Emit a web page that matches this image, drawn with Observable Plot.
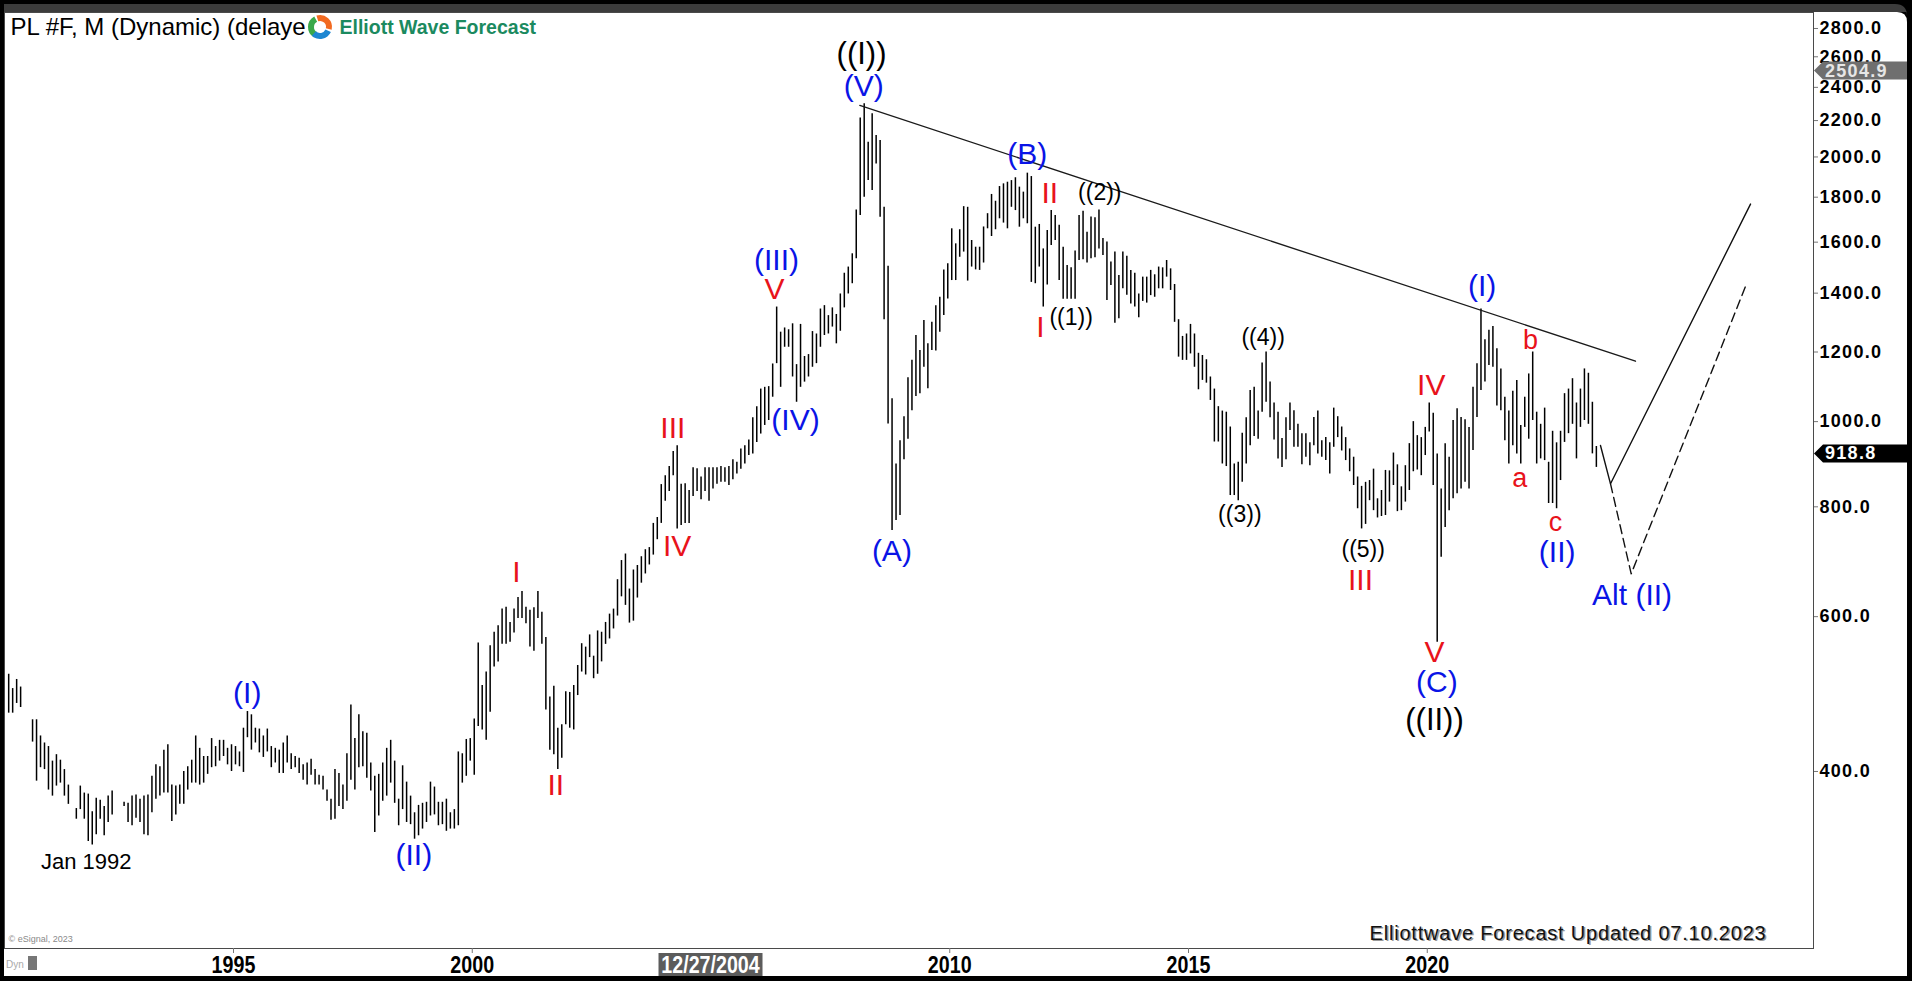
<!DOCTYPE html>
<html>
<head>
<meta charset="utf-8">
<script src="https://cdn.jsdelivr.net/npm/d3@7"></script>
<script src="https://cdn.jsdelivr.net/npm/@observablehq/plot@0.6"></script>
<style>
html, body { margin: 0; padding: 0; background: #000; overflow: hidden; }
#chart { position: absolute; left: 0; top: 0; width: 1912px; height: 981px; }
</style>
</head>
<body>
<div id="chart"></div>
<script>
// ---------- DATA ----------
const startYear = 1990, startMonth = 4;   // first monthly bar: Apr 1990
// monthly highs, one row per calendar year
const highs = [
  516,497,509,499,null,null,458,458,439,                 // 1990 Apr-Dec
  431,427,411,418,412,402,386,null,363,385,378,377,      // 1991
  360,373,371,365,375,380,null,null,369,368,375,376,     // 1992
  372,375,376,395,407,405,423,429,386,385,386,400,       // 1993
  405,412,439,425,416,416,436,427,434,434,425,429,       // 1994
  427,421,448,468,464,448,447,439,447,427,425,423,       // 1995
  431,439,419,416,414,407,409,413,402,396,395,381,       // 1996
  372,402,398,386,419,476,436,464,444,442,409,395,       // 1997
  397,409,425,434,411,372,406,389,375,359,366,368,       // 1998
  369,389,384,369,369,372,359,362,421,419,435,436,       // 1999
  459,560,501,519,556,576,586,612,615,591,612,631,       // 2000
  641,615,610,614,641,607,568,486,500,448,452,493,       // 2001
  492,501,528,559,554,572,541,578,576,591,604,612,       // 2002
  661,695,707,645,678,686,702,715,719,766,778,848,       // 2003
  868,889,925,939,849,850,835,886,884,865,886,886,       // 2004
  886,886,889,886,889,905,899,931,939,953,1010,1040,     // 2005
  1089,1094,1096,1163,1350,1264,1278,1272,1292,1161,1290,1186, // 2006
  1192,1266,1258,1343,1355,1320,1347,1324,1397,1475,1499,1552, // 2007
  1741,2215,2299,2079,2240,2116,2088,1753,1502,1062,895,951,   // 2008
  1013,1122,1174,1253,1205,1303,1226,1297,1355,1385,1488,1512, // 2009
  1657,1593,1653,1756,1753,1607,1579,1579,1665,1724,1813,1781, // 2010
  1851,1864,1872,1880,1894,1848,1824,1917,1900,1664,1676,1572, // 2011
  1650,1738,1716,1672,1579,1505,1496,1563,1716,1735,1642,1709, // 2012
  1706,1741,1615,1601,1519,1559,1466,1559,1542,1486,1475,1397, // 2013
  1460,1460,1486,1469,1499,1496,1525,1492,1432,1306,1250,1258, // 2014
  1290,1258,1196,1189,1176,1124,1089,1040,1028,1025,986,895,   // 2015
  899,970,1010,1085,1094,1028,1166,1200,1109,1050,1025,957,    // 2016
  1010,1050,1029,993,969,969,946,1011,1028,951,959,946,        // 2017
  1036,1013,986,959,931,911,865,844,853,857,883,817,           // 2018
  835,880,879,921,893,843,891,944,1000,964,959,985,            // 2019
  1050,1022,919,838,944,911,1003,1034,1011,1005,985,1094,      // 2020
  1164,1343,1239,1270,1283,1210,1148,1066,1028,1083,1114,990,  // 2021
  1066,1133,1200,1025,993,1036,899,975,946,975,1076,1089,      // 2022
  1119,1050,1089,1148,1135,1052,937                            // 2023 Jan-Jul
];
// monthly lows, same layout
const lows = [
  466,466,478,473,null,null,432,390,404,
  402,381,375,385,388,375,367,null,353,362,353,333,
  330,339,353,338,350,357,null,null,365,350,347,354,
  350,339,338,359,372,375,378,378,351,357,367,367,
  381,388,388,386,388,397,404,405,411,416,407,400,
  407,405,399,437,423,431,420,415,421,404,409,398,
  398,409,402,404,398,391,386,396,386,386,381,370,
  352,353,365,362,370,391,381,404,405,393,380,341,
  356,370,375,388,368,347,362,350,348,335,338,344,
  350,356,357,347,348,342,344,344,347,388,395,411,
  396,450,446,434,467,526,533,558,558,561,575,597,
  597,589,554,548,597,558,470,423,418,402,414,452,
  448,446,488,519,515,539,510,516,533,558,566,581,
  601,632,618,590,593,630,655,671,687,705,734,766,
  812,833,868,755,762,766,766,822,833,815,833,812,
  838,849,853,853,846,859,872,883,895,915,919,947,
  968,990,1003,1066,1164,1094,1215,1215,1124,1052,1094,1109,
  1124,1153,1164,1215,1253,1258,1281,1226,1267,1347,1397,1435,
  1532,1716,1800,1880,1832,1964,1708,1306,994,752,772,782,
  905,955,1029,1068,1076,1153,1090,1205,1203,1264,1320,1379,
  1447,1447,1538,1559,1445,1499,1488,1486,1515,1657,1624,1653,
  1701,1682,1657,1753,1738,1664,1701,1679,1440,1435,1499,1350,
  1430,1586,1607,1447,1378,1378,1378,1378,1525,1528,1515,1532,
  1536,1572,1545,1373,1428,1294,1309,1416,1392,1361,1350,1313,
  1370,1364,1391,1385,1416,1416,1460,1410,1297,1184,1174,1174,
  1194,1153,1087,1114,1106,1057,948,948,895,889,824,824,
  813,853,895,939,962,955,1025,1052,1010,953,907,887,
  905,977,935,935,893,911,891,939,919,911,903,872,
  935,959,926,903,877,846,796,755,764,813,792,777,
  780,782,810,846,790,792,810,835,877,881,868,915,
  973,846,561,701,758,792,817,828,838,853,838,927,
  1011,1085,1109,1158,1153,1042,1029,951,895,939,919,895,
  985,955,1003,895,907,903,807,807,796,857,947,969,
  993,907,985,1003,993,919,887
];

const yTicks = [400, 600, 800, 1000, 1200, 1400, 1600, 1800, 2000, 2200, 2400, 2600, 2800];
const xTicks = [1995, 2000, 2010, 2015, 2020];
const cursorDate = { t: 2005, text: "12/27/2004" };
const priceTags = [ { p: 2504.9, text: "2504.9", kind: "marker" }, { p: 918.8, text: "918.8", kind: "last" } ];

const titleText = "PL #F, M (Dynamic) (delaye";
const brandText = "Elliott Wave Forecast";
const footerText = "Elliottwave Forecast Updated 07.10.2023";
const copyrightText = "\u00A9 eSignal, 2023";

// wave labels: [text, time (fractional year), price, degree]
const waveLabels = [
  ["Jan 1992", 1991.915, 315.3, "note"],
  ["(I)", 1995.287, 491.1, "intermediate"],
  ["(II)", 1998.776, 320.9, "intermediate"],
  ["I", 2000.927, 674.0, "minor"],
  ["II", 2001.750, 385.5, "minor"],
  ["III", 2004.200, 981.4, "minor"],
  ["IV", 2004.292, 721.0, "minor"],
  ["V", 2006.330, 1412.3, "minor"],
  ["(III)", 2006.372, 1525.0, "intermediate"],
  ["(IV)", 2006.770, 1002.9, "intermediate"],
  ["((I))", 2008.152, 2620.5, "primary"],
  ["(V)", 2008.200, 2405.4, "intermediate"],
  ["(A)", 2008.788, 711.3, "intermediate"],
  ["(B)", 2011.622, 2013.0, "intermediate"],
  ["II", 2012.095, 1819.0, "minor"],
  ["((2))", 2013.142, 1823.8, "minute"],
  ["I", 2011.901, 1280.5, "minor"],
  ["((1))", 2012.543, 1314.5, "minute"],
  ["((4))", 2016.564, 1247.5, "minute"],
  ["((3))", 2016.075, 784.1, "minute"],
  ["((5))", 2018.659, 714.8, "minute"],
  ["III", 2018.602, 659.6, "minor"],
  ["IV", 2020.083, 1099.2, "minor"],
  ["V", 2020.152, 545.7, "minor"],
  ["(C)", 2020.202, 505.5, "intermediate"],
  ["((II))", 2020.152, 457.9, "primary"],
  ["(I)", 2021.150, 1424.6, "intermediate"],
  ["b", 2022.162, 1236.7, "minuette"],
  ["a", 2021.938, 860.9, "minuette"],
  ["c", 2022.686, 768.4, "minuette"],
  ["(II)", 2022.721, 710.3, "intermediate"],
  ["Alt (II)", 2024.290, 634.1, "intermediate"]
].map(([text, t, p, degree]) => ({ text, t, p, degree }));

// resistance line from the 2008 top through the later highs
const trendLine = [ { t: 2008.116, p: 2288.7 }, { t: 2024.361, p: 1171.4 } ];
// projected paths
const projMain = [ { t: 2023.628, p: 939.4 }, { t: 2023.838, p: 849.7 }, { t: 2026.770, p: 1767.8 } ];
const projAlt  = [ { t: 2023.838, p: 849.7 }, { t: 2024.271, p: 671.2 }, { t: 2026.690, p: 1436.2 } ];

// ---------- BUILD ----------
const bars = highs.map((h, k) => ({
  t: startYear + (startMonth - 1 + k + 0.5) / 12,
  high: h,
  low: lows[k]
})).filter(d => d.high != null && d.low != null);

const FONT = "'Liberation Sans', Arial, Helvetica, sans-serif";
const BLUE = "#0a14e6", RED = "#e8131b";

const labelStyle = {
  intermediate: { fill: BLUE, fontSize: 30 },
  minor: { fill: RED, fontSize: 30 },
  primary: { fill: "#000", fontSize: 31 },
  minute: { fill: "#000", fontSize: 23 },
  minuette: { fill: RED, fontSize: 27 },
  note: { fill: "#000", fontSize: 22 }
};

const W = 1912, H = 981;
const chart = Plot.plot({
  width: W, height: H,
  marginLeft: 4, marginRight: 99, marginTop: 12, marginBottom: 33,
  style: { background: "transparent", fontFamily: FONT, overflow: "visible" },
  x: { type: "linear", domain: [1990.204, 2028.089] },
  y: { type: "log", domain: [251.6, 2919.8] },
  marks: [
    Plot.frame({ stroke: "#4a4a4a", strokeWidth: 1 }),
    Plot.axisY({ anchor: "right", ticks: yTicks, tickFormat: d => d.toFixed(1), tickSize: 4, tickPadding: 2,
                 fontSize: 18, fontWeight: "bold", label: null, stroke: "#777" }),
    Plot.axisX({ ticks: xTicks, tickFormat: d => String(d), tickSize: 5, tickPadding: 2,
                 fontSize: 24, fontWeight: "bold", label: null, stroke: "#777" }),
    Plot.ruleX(bars, { x: "t", y1: "low", y2: "high", stroke: "#000", strokeWidth: 1.5 }),
    Plot.line(trendLine, { x: "t", y: "p", stroke: "#1a1a1a", strokeWidth: 1.3 }),
    Plot.line(projMain, { x: "t", y: "p", stroke: "#111", strokeWidth: 1.4 }),
    Plot.line(projAlt, { x: "t", y: "p", stroke: "#111", strokeWidth: 1.4, strokeDasharray: "9,5" }),
    ...Object.entries(labelStyle).map(([deg, st]) =>
      Plot.text(waveLabels.filter(d => d.degree === deg), { x: "t", y: "p", text: "text", fill: st.fill, fontSize: st.fontSize })),
    Plot.text([titleText], { frameAnchor: "top-left", dx: 6, dy: 15, textAnchor: "start", lineAnchor: "middle", fontSize: 24, fill: "#000" }),
    Plot.text([brandText], { frameAnchor: "top-left", dx: 335, dy: 15, textAnchor: "start", lineAnchor: "middle", fontSize: 19.5, fontWeight: "bold", fill: "#1b8a5f" }),
    Plot.text([copyrightText], { frameAnchor: "bottom-left", dx: 4, dy: -9, textAnchor: "start", lineAnchor: "middle", fontSize: 9, fill: "#8a8a8a" }),
    Plot.text([footerText], { frameAnchor: "bottom-right", dx: -45.5, dy: -13.5, textAnchor: "end", lineAnchor: "middle", fontSize: 20, fill: "#9a9a9a" }),
    Plot.text([footerText], { frameAnchor: "bottom-right", dx: -47, dy: -15, textAnchor: "end", lineAnchor: "middle", fontSize: 20, fill: "#111" })
  ]
});

const svg = d3.select(chart);
svg.attr("width", W).attr("height", H);
svg.selectAll('g[aria-label="y-axis tick label"]').attr("font-weight", "bold").attr("fill", "#000")
  .style("letter-spacing", "1.3px");
const xl = svg.selectAll('g[aria-label="x-axis tick label"]').attr("font-weight", "bold").attr("fill", "#000");
// narrow (condensed) look of the time-axis labels
xl.selectAll("text").each(function () {
  const tr = this.getAttribute("transform") || "";
  this.setAttribute("transform", tr + " scale(0.82,1)");
});
svg.selectAll("text").filter(function () { return this.textContent === footerText; }).style("letter-spacing", "0.8px");

// page panel (white) with the dark header band, behind everything
const panel = svg.insert("g", ":first-child");
panel.append("path")
  .attr("d", `M4,12 H1897 Q1907,12 1907,22 V976 H4 Z`)
  .attr("fill", "#fff");
panel.append("path")
  .attr("d", `M4,4 H1895 Q1907,4 1907,16 V12 H4 Z`)
  .attr("fill", "#3c3c3c");

const X = chart.scale("x"), Y = chart.scale("y");

// logo icon over the end of the title
const lx = 320, ly = 27, r = 9;
const logo = svg.append("g");
logo.append("circle").attr("cx", lx).attr("cy", ly).attr("r", r + 4).attr("fill", "#fff");
const arc = d3.arc().innerRadius(r - 3).outerRadius(r + 3);
[[-2.6, -0.5, "#3aa84a"], [-0.3, 1.8, "#f26a21"], [2.0, 3.9, "#1d86d1"]].forEach(([a0, a1, c]) => {
  logo.append("path").attr("d", arc({ startAngle: a0, endAngle: a1 })).attr("transform", `translate(${lx},${ly})`).attr("fill", c);
});

// cursor date box on the time axis
const cx = X.apply(cursorDate.t);
const cur = svg.append("g");
cur.append("rect").attr("x", cx - 52).attr("y", 953).attr("width", 104).attr("height", 23).attr("fill", "#5c5c5c");
cur.append("text").attr("text-anchor", "middle").attr("dominant-baseline", "central")
  .attr("transform", `translate(${cx},965) scale(0.82,1)`)
  .attr("font-family", FONT).attr("font-weight", "bold").attr("font-size", 24).attr("fill", "#fff").text(cursorDate.text);

// price tags on the right axis
priceTags.forEach(tag => {
  const y = Y.apply(tag.p);
  const g = svg.append("g");
  const x0 = 1814, x1 = 1907, h = 9;
  g.append("path").attr("d", `M${x0},${y} L${x0 + 9},${y - h} H${x1} V${y + h} H${x0 + 9} Z`)
    .attr("fill", tag.kind === "last" ? "#000" : "#6f6f6f");
  g.append("text").attr("x", x0 + 11).attr("y", y).attr("text-anchor", "start").attr("dominant-baseline", "central")
    .attr("font-family", FONT).attr("font-weight", "bold").attr("font-size", 18).style("letter-spacing", "1.3px")
    .attr("fill", tag.kind === "last" ? "#fff" : "#e6e6e6").text(tag.text);
});

// "Dyn" marker bottom-left
const dyn = svg.append("g");
dyn.append("text").attr("x", 6).attr("y", 964).attr("text-anchor", "start").attr("dominant-baseline", "central")
  .attr("font-family", FONT).attr("font-size", 10).attr("fill", "#aaa").text("Dyn");
dyn.append("rect").attr("x", 28).attr("y", 956).attr("width", 9).attr("height", 14).attr("fill", "#777");

document.getElementById("chart").appendChild(chart);
</script>
</body>
</html>
